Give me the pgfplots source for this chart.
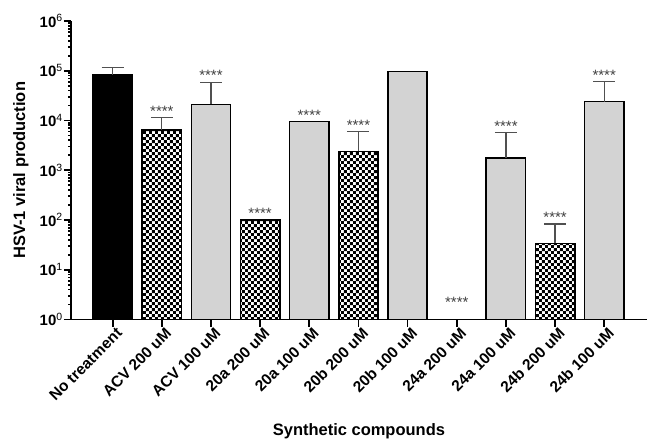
\documentclass[border=0pt]{standalone}
\usepackage{fontspec}
\setmainfont{Liberation Sans}
\usepackage{pgfplots}
\usepackage{pgfplotstable}
\pgfplotsset{compat=1.18}
\usetikzlibrary{patterns}
\pgfdeclarepatternformonly{checks}{\pgfpointorigin}{\pgfqpoint{6pt}{6pt}}{\pgfqpoint{6pt}{6pt}}{%
 \pgfpathrectangle{\pgfpointorigin}{\pgfqpoint{3pt}{3pt}}%
 \pgfpathrectangle{\pgfqpoint{3pt}{3pt}}{\pgfqpoint{3pt}{3pt}}%
 \pgfusepath{fill}}
\definecolor{bargrey}{HTML}{D3D3D3}
\definecolor{errgrey}{HTML}{505050}
\pgfplotstableread{
x y
0 83000
}\blackbars
\pgfplotstableread{
x y
1 6500
3 100
5 2400
9 34
}\checkbars
\pgfplotstableread{
x y
2 21000
4 9500
6 97000
8 1750
10 24000
}\greybars
\pgfplotstableread{
x y e
0 83000 35000
1 6500 5000
2 21000 38000
5 2400 3600
8 1750 3950
9 34 49
10 24000 37000
}\errs
\newcommand{\tsup}[1]{\textsuperscript{\mdseries\fontsize{10.5}{10.5}\selectfont #1}}
\tikzset{stars/.style={anchor=south, inner sep=0pt, font=\fontsize{15}{15}\selectfont, text=errgrey!80!black, yshift=1pt}}
\begin{document}
\begin{tikzpicture}
\begin{axis}[
  name=ax,
  scale only axis,
  width=577pt, height=299pt,
  ymode=log, log origin=infty,
  ymin=1, ymax=1e6,
  xmin=-0.85, xmax=10.87,
  axis x line*=bottom, axis y line*=left,
  axis line style={line width=1.7pt, black},
  tick align=outside,
  major tick length=7pt,
  tick style={line width=1.7pt, black},
  minor tick num=0,
  ytick={1,10,100,1000,10000,100000,1000000},
  yticklabels={10\tsup{0},10\tsup{1},10\tsup{2},10\tsup{3},10\tsup{4},10\tsup{5},10\tsup{6}},
  xtick={0,...,10},
  xticklabels={No treatment,ACV 200 uM,ACV 100 uM,20a 200 uM,20a 100 uM,20b 200 uM,20b 100 uM,24a 200 uM,24a 100 uM,24b 200 uM,24b 100 uM},
  x tick label style={rotate=45, anchor=north east, font=\bfseries\fontsize{15.5}{16}\selectfont, inner sep=1pt, xshift=3pt, yshift=-1pt},
  y tick label style={font=\bfseries\fontsize{15}{16}\selectfont, inner sep=1pt},
  xlabel={Synthetic compounds},
  ylabel={HSV-1 viral production},
  label style={font=\bfseries\fontsize{16.5}{18}\selectfont},
  ylabel style={at={(axis description cs:-0.087,0.5)}, anchor=center, rotate=0},
  xlabel style={at={(axis description cs:0.5,-0.375)}, anchor=center},
  bar width=0.8,
  clip=false,
]
\addplot[ybar, bar shift=0pt, fill=black, draw=black, line width=1.6pt] table[x=x,y=y]{\blackbars};
\addplot[ybar, bar shift=0pt, fill=white, draw=black, line width=1.6pt, postaction={pattern=checks, pattern color=black}] table[x=x,y=y]{\checkbars};
\addplot[ybar, bar shift=0pt, fill=bargrey, draw=black, line width=1.6pt] table[x=x,y=y]{\greybars};
\addplot[draw=none, mark=none,
  error bars/.cd, y dir=plus, y explicit,
  error bar style={line width=1.2pt, errgrey, solid},
  error mark options={rotate=90, mark size=11pt, line width=1.2pt, errgrey, draw=errgrey}]
  table[x=x,y=y,y error=e]{\errs};
\node[stars] at (axis cs:1,11500) {****};
\node[stars] at (axis cs:2,59000) {****};
\node[stars] at (axis cs:3,100) {****};
\node[stars] at (axis cs:4,9500) {****};
\node[stars] at (axis cs:5,6000) {****};
\node[stars, yshift=11pt] at (axis cs:7,1) {****};
\node[stars] at (axis cs:8,5700) {****};
\node[stars] at (axis cs:9,83) {****};
\node[stars] at (axis cs:10,61000) {****};
\end{axis}
\pgfresetboundingbox
\path[use as bounding box] ([xshift=-71pt,yshift=-120pt]ax.south west) rectangle ([xshift=1pt,yshift=21pt]ax.north east);
\end{tikzpicture}
\end{document}
